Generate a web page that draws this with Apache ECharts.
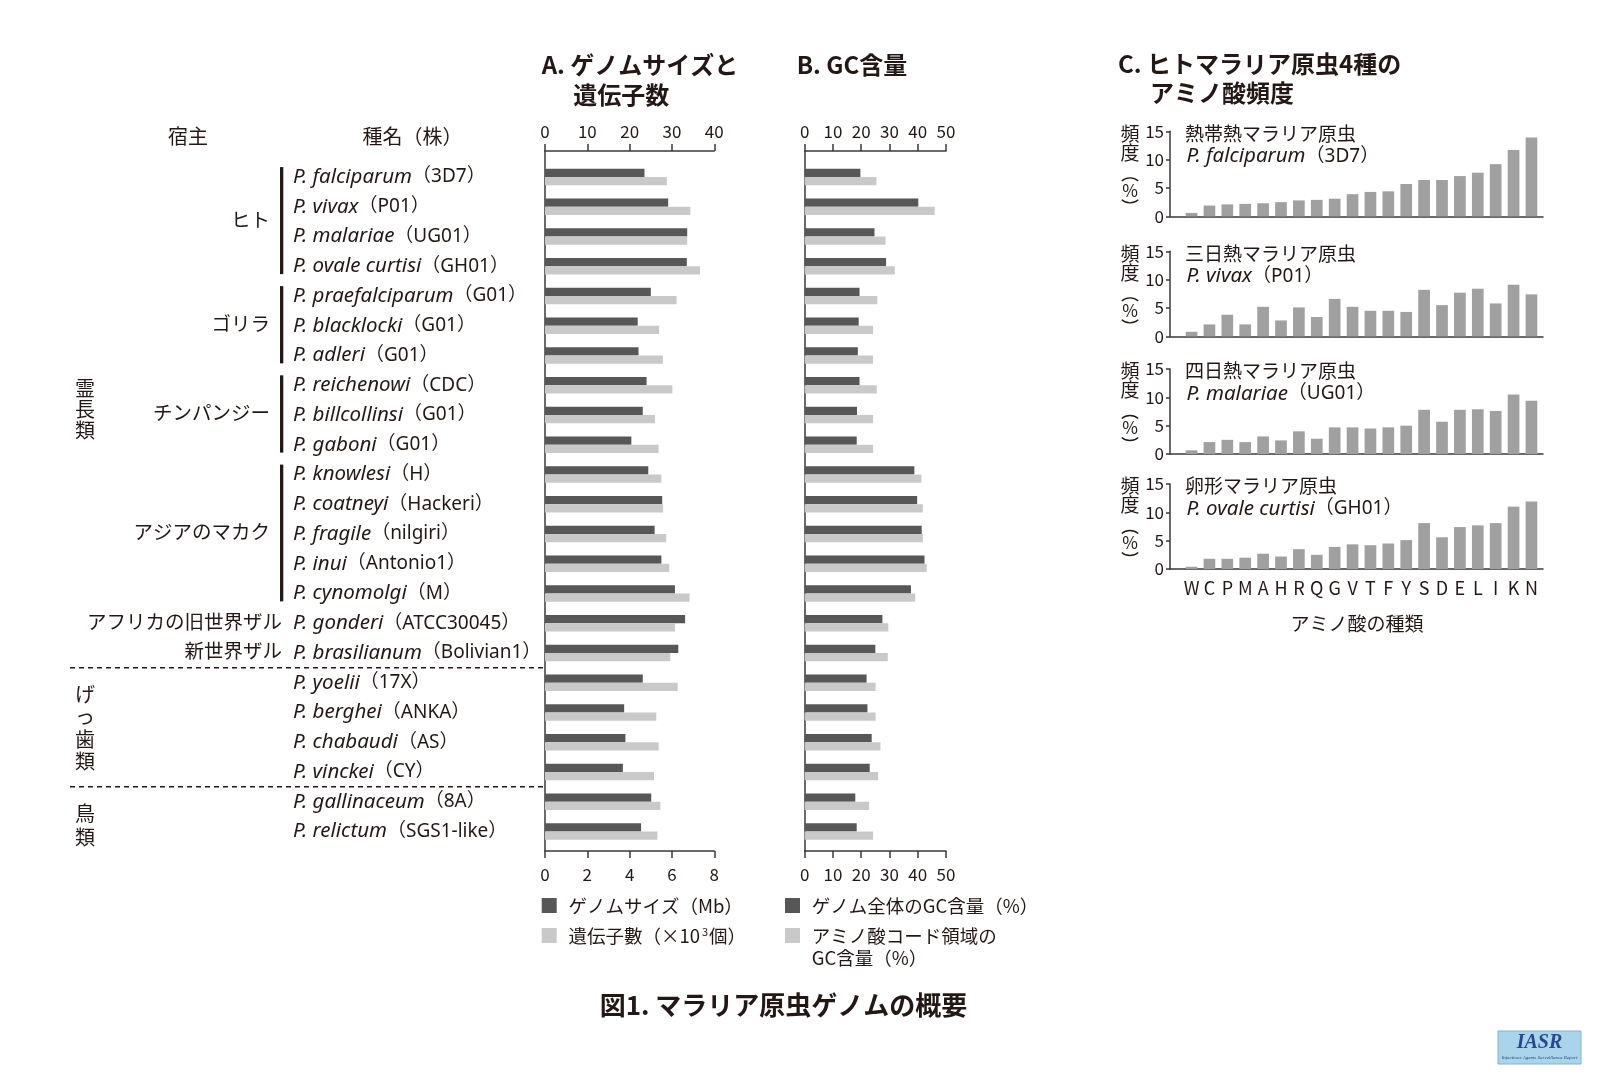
<!DOCTYPE html>
<html>
<head>
<meta charset="utf-8">
<script src="https://cdn.jsdelivr.net/npm/echarts@6/dist/echarts.min.js"></script>
<style>
  html, body { margin: 0; padding: 0; background: #fff; }
  #chart { width: 1612px; height: 1080px; }
</style>
</head>
<body>
<div id="chart"></div>
<script>
// ---- data ----
const species = ['P. falciparum', 'P. vivax', 'P. malariae', 'P. ovale curtisi', 'P. praefalciparum',
  'P. blacklocki', 'P. adleri', 'P. reichenowi', 'P. billcollinsi', 'P. gaboni', 'P. knowlesi',
  'P. coatneyi', 'P. fragile', 'P. inui', 'P. cynomolgi', 'P. gonderi', 'P. brasilianum',
  'P. yoelii', 'P. berghei', 'P. chabaudi', 'P. vinckei', 'P. gallinaceum', 'P. relictum']
const strains = ['3D7', 'P01', 'UG01', 'GH01', 'G01', 'G01', 'G01', 'CDC', 'G01', 'G01', 'H',
  'Hackeri', 'nilgiri', 'Antonio1', 'M', 'ATCC30045', 'Bolivian1', '17X', 'ANKA', 'AS', 'CY', '8A', 'SGS1-like']
// genome size (Mb), top axis 0-40
const genomeSize = [23.5, 29.1, 33.6, 33.5, 25.0, 21.9, 22.1, 24.0, 23.1, 20.4, 24.4, 27.7,
  25.9, 27.5, 30.7, 33.1, 31.5, 23.1, 18.7, 19.0, 18.4, 25.1, 22.7]
// gene count (x10^3), bottom axis 0-8
const geneCount = [5.76, 6.87, 6.72, 7.32, 6.22, 5.39, 5.57, 6.02, 5.20, 5.37, 5.50, 5.58,
  5.73, 5.87, 6.83, 6.14, 5.92, 6.27, 5.26, 5.37, 5.15, 5.45, 5.31]
// GC content (%)
const gcGenome = [19.7, 40.2, 24.7, 28.8, 19.4, 19.1, 18.8, 19.4, 18.5, 18.4, 38.8, 39.8,
  41.4, 42.4, 37.6, 27.5, 25.0, 21.9, 22.2, 23.7, 23.0, 17.9, 18.4]
const gcCoding = [25.4, 46.0, 28.6, 31.9, 25.7, 24.2, 24.2, 25.5, 24.2, 24.2, 41.3, 41.8,
  41.8, 43.2, 39.1, 29.6, 29.4, 25.1, 25.1, 26.8, 26.0, 22.8, 24.2]

const hostGroups = [
  { name: 'ヒト', from: 0, to: 3, bracket: true },
  { name: 'ゴリラ', from: 4, to: 6, bracket: true },
  { name: 'チンパンジー', from: 7, to: 9, bracket: true },
  { name: 'アジアのマカク', from: 10, to: 14, bracket: true },
  { name: 'アフリカの旧世界ザル', from: 15, to: 15, bracket: false },
  { name: '新世界ザル', from: 16, to: 16, bracket: false }
]

// amino acid frequency (%)
const aminoAcids = ['W', 'C', 'P', 'M', 'A', 'H', 'R', 'Q', 'G', 'V', 'T', 'F', 'Y', 'S', 'D', 'E', 'L', 'I', 'K', 'N']
const freqFalciparum = [0.6, 1.9, 2.1, 2.2, 2.3, 2.5, 2.8, 2.9, 3.1, 3.9, 4.3, 4.4, 5.7, 6.4, 6.4, 7.1, 7.7, 9.2, 11.7, 13.9]
const freqVivax = [0.8, 2.1, 3.8, 2.1, 5.2, 2.8, 5.1, 3.4, 6.6, 5.2, 4.5, 4.5, 4.3, 8.2, 5.5, 7.7, 8.4, 5.8, 9.1, 7.4]
const freqMalariae = [0.65, 2.1, 2.5, 2.1, 3.1, 2.4, 4.0, 2.7, 4.7, 4.7, 4.5, 4.7, 5.0, 7.8, 5.7, 7.8, 7.9, 7.6, 10.5, 9.4]
const freqOvale = [0.4, 1.8, 1.8, 2.0, 2.7, 2.2, 3.5, 2.5, 3.9, 4.35, 4.2, 4.5, 5.1, 8.1, 5.6, 7.4, 7.7, 8.1, 11.0, 11.9]

const subPanels = [
  { title: '熱帯熱マラリア原虫', sp: 'P. falciparum', strain: '3D7', data: freqFalciparum, top: 131.3 },
  { title: '三日熱マラリア原虫', sp: 'P. vivax', strain: 'P01', data: freqVivax, top: 251.3 },
  { title: '四日熱マラリア原虫', sp: 'P. malariae', strain: 'UG01', data: freqMalariae, top: 369 },
  { title: '卵形マラリア原虫', sp: 'P. ovale curtisi', strain: 'GH01', data: freqOvale, top: 484 }
]

// ---- layout ----
const FONT = '"Noto Sans CJK JP", "Noto Sans", sans-serif'
const LATIN = '"Noto Sans", "Noto Sans CJK JP", sans-serif'
const INK = '#231815'
const LINE = '#3a3a3a'
const DARK = '#575757'
const LIGHT = '#c9c9c9'
const MID = '#a0a0a0'

const frameTop = 151, frameH = 700
const dataTop = 162.1, rowH = 29.75, dataH = rowH * species.length
const aLeft = 545, aW = 169.3
const bLeft = 804.7, bW = 141.3
const cFrameLeft = 1170, cFrameW = 373, cDataLeft = 1182.6, cDataW = 357.8, cH = 85

const rowTop = i => dataTop + rowH * i
const rowMid = i => dataTop + rowH * (i + 0.5)

const axisLine = { show: true, onZero: false, lineStyle: { color: LINE, width: 1.5 } }
const noAxis = { show: false }
const tickStyle = (len) => ({ show: true, inside: false, length: len, lineStyle: { color: LINE, width: 1.5 } })
const lbl = (margin) => ({ show: true, margin: margin, color: INK, fontSize: 17, fontFamily: FONT })

// species name rich text: italic binomial + strain in full-width brackets
const nameRich = {
  i: { fontFamily: LATIN, fontStyle: 'italic', fontSize: 20.5, color: INK, fill: INK },
  n: { fontFamily: LATIN, fontSize: 19, color: INK, fill: INK }
}

function frameY (grid) {
  return { type: 'value', gridIndex: grid, min: 0, max: 1, axisLine: axisLine,
    axisTick: noAxis, axisLabel: noAxis, splitLine: noAxis }
}

const grid = [
  { left: aLeft, top: frameTop, width: aW, height: frameH },
  { left: aLeft, top: dataTop, width: aW, height: dataH },
  { left: bLeft, top: frameTop, width: bW, height: frameH },
  { left: bLeft, top: dataTop, width: bW, height: dataH }
]
const xAxis = [
  { type: 'value', gridIndex: 0, position: 'top', min: 0, max: 40, interval: 10,
    axisLine: axisLine, axisTick: tickStyle(7), axisLabel: lbl(11), splitLine: noAxis },
  { type: 'value', gridIndex: 0, position: 'bottom', min: 0, max: 8, interval: 2,
    axisLine: axisLine, axisTick: tickStyle(7), axisLabel: lbl(15), splitLine: noAxis },
  { type: 'value', gridIndex: 1, min: 0, max: 40, show: false },
  { type: 'value', gridIndex: 1, min: 0, max: 8, show: false },
  { type: 'value', gridIndex: 2, position: 'top', min: 0, max: 50, interval: 10,
    axisLine: axisLine, axisTick: tickStyle(7), axisLabel: lbl(11), splitLine: noAxis },
  { type: 'value', gridIndex: 2, position: 'bottom', min: 0, max: 50, interval: 10,
    axisLine: axisLine, axisTick: tickStyle(7), axisLabel: lbl(15), splitLine: noAxis },
  { type: 'value', gridIndex: 3, min: 0, max: 50, show: false }
]
const yAxis = [
  frameY(0),
  { type: 'category', gridIndex: 1, data: species, inverse: true,
    axisLine: noAxis, axisTick: noAxis, splitLine: noAxis,
    axisLabel: {
      show: true, align: 'left', margin: aLeft - 293, interval: 0,
      formatter: (v, i) => '{i|' + v + '}{n|（' + strains[i] + '）}',
      rich: nameRich
    } },
  frameY(2),
  { type: 'category', gridIndex: 3, data: species, inverse: true, show: false }
]
const series = [
  { name: 'ゲノムサイズ（Mb）', type: 'bar', xAxisIndex: 2, yAxisIndex: 1, data: genomeSize,
    barWidth: 8.3, barGap: '0%', itemStyle: { color: DARK } },
  { name: '遺伝子数', type: 'bar', xAxisIndex: 3, yAxisIndex: 1, data: geneCount,
    barWidth: 8.3, barGap: '0%', itemStyle: { color: LIGHT } },
  { name: 'ゲノム全体のGC含量', type: 'bar', xAxisIndex: 6, yAxisIndex: 3, data: gcGenome,
    barWidth: 8.3, barGap: '0%', itemStyle: { color: DARK } },
  { name: 'アミノ酸コード領域のGC含量', type: 'bar', xAxisIndex: 6, yAxisIndex: 3, data: gcCoding,
    barWidth: 8.3, barGap: '0%', itemStyle: { color: LIGHT } }
]

subPanels.forEach(function (p, k) {
  const gFrame = grid.length
  grid.push({ left: cFrameLeft, top: p.top, width: cFrameW, height: cH })
  grid.push({ left: cDataLeft, top: p.top, width: cDataW, height: cH })
  xAxis.push({ type: 'value', gridIndex: gFrame, min: 0, max: 1, axisLine: axisLine,
    axisTick: noAxis, axisLabel: noAxis, splitLine: noAxis })
  xAxis.push({ type: 'category', gridIndex: gFrame + 1, data: aminoAcids,
    axisLine: noAxis, axisTick: noAxis,
    axisLabel: k === 3 ? Object.assign(lbl(10), { fontSize: 18, interval: 0 }) : noAxis })
  yAxis.push({ type: 'value', gridIndex: gFrame, min: 0, max: 15, interval: 5,
    axisLine: axisLine, axisTick: tickStyle(4), axisLabel: lbl(6), splitLine: noAxis })
  yAxis.push({ type: 'value', gridIndex: gFrame + 1, min: 0, max: 15, show: false })
  series.push({ type: 'bar', xAxisIndex: xAxis.length - 1, yAxisIndex: yAxis.length - 1,
    data: p.data, barWidth: 11.7, itemStyle: { color: MID } })
})

// ---- annotations ----
const graphic = []
function txt (x, y, text, o) {
  o = o || {}
  graphic.push({ type: 'text', x: x, y: y, silent: true,
    style: Object.assign({ text: text, fill: INK, font: (o.weight || 'normal') + ' ' + (o.size || 19) + 'px ' + FONT,
      textAlign: o.align || 'left', textVerticalAlign: 'middle' }, o.style || {}) })
}

txt(541.7, 65, 'A. ゲノムサイズと', { size: 24, weight: 'bold' })
txt(573.3, 95, '遺伝子数', { size: 24, weight: 'bold' })
txt(796.7, 65, 'B. GC含量', { size: 24, weight: 'bold' })
txt(1118, 64, 'C. ヒトマラリア原虫4種の', { size: 24, weight: 'bold' })
txt(1150, 93, 'アミノ酸頻度', { size: 24, weight: 'bold' })
txt(188, 136.7, '宿主', { size: 20, align: 'center' })
txt(412.5, 136.7, '種名（株）', { size: 20, align: 'center' })

hostGroups.forEach(function (g) {
  const y = (rowMid(g.from) + rowMid(g.to)) / 2 - 2
  txt(g.bracket ? 270 : 282, y, g.name, { size: 19.5, align: 'right' })
  if (g.bracket) {
    graphic.push({ type: 'rect', silent: true,
      shape: { x: 280, y: rowTop(g.from) + 5, width: 3.3, height: rowTop(g.to + 1) - rowTop(g.from) - 12 },
      style: { fill: INK } })
  }
})

// vertical class labels
function vtxt (x, y, text, lh) {
  graphic.push({ type: 'text', x: x, y: y, silent: true,
    style: { text: text.split('').join('\n'), fill: INK, font: '20px ' + FONT, lineHeight: lh,
      textAlign: 'center', textVerticalAlign: 'middle' } })
}
vtxt(85, 409, '霊長類', 21)
vtxt(85, 728, 'げっ歯類', 22.3)
vtxt(85, 825, '鳥類', 24)

;[17, 21].forEach(function (i) {
  graphic.push({ type: 'line', silent: true,
    shape: { x1: 70, y1: rowTop(i), x2: aLeft, y2: rowTop(i) },
    style: { stroke: INK, lineWidth: 1.5, lineDash: [5, 4] } })
})

// legends
function legendItem (x, y, color, text, rich) {
  graphic.push({ type: 'rect', silent: true, shape: { x: x, y: y - 7.5, width: 15, height: 15 }, style: { fill: color } })
  graphic.push({ type: 'text', x: x + 26.7, y: y, silent: true,
    style: { text: text, fill: INK, font: '18.5px ' + FONT, textVerticalAlign: 'middle', rich: rich } })
}
legendItem(541.7, 905.5, DARK, 'ゲノムサイズ（Mb）')
legendItem(541.7, 935.5, LIGHT, '遺伝子數（×10{s|3}個）', {
  s: { fontSize: 11, fontFamily: FONT, fill: INK, padding: [0, 1, 8, 2] }
})
legendItem(785, 905.5, DARK, 'ゲノム全体のGC含量（%）')
legendItem(785, 935.5, LIGHT, 'アミノ酸コード領域の')
txt(811.7, 958.3, 'GC含量（%）', { size: 18.5 })

// panel C texts
subPanels.forEach(function (p) {
  const t = p.top
  txt(1185, t + 2, p.title, { size: 19 })
  graphic.push({ type: 'text', x: 1186.5, y: t + 25, silent: true,
    style: { text: '{i|' + p.sp + '}{n|（' + p.strain + '）}', fill: INK, textVerticalAlign: 'middle',
      rich: nameRich } })
  txt(1130, t + 2, '頻', { size: 19, align: 'center' })
  txt(1130, t + 21, '度', { size: 19, align: 'center' })
  txt(1130, t + 59, '%', { size: 17, align: 'center' })
  // bracket drawn as two arcs round the percent sign (vertical writing)
  graphic.push({ type: 'arc', silent: true,
    shape: { cx: 1130, cy: t + 59, r: 12.5, startAngle: -Math.PI / 2 - 0.72, endAngle: -Math.PI / 2 + 0.72 },
    style: { stroke: INK, lineWidth: 1.3, fill: null } })
  graphic.push({ type: 'arc', silent: true,
    shape: { cx: 1130, cy: t + 59, r: 12.5, startAngle: Math.PI / 2 - 0.72, endAngle: Math.PI / 2 + 0.72 },
    style: { stroke: INK, lineWidth: 1.3, fill: null } })
})
txt(1357, 624, 'アミノ酸の種類', { size: 19, align: 'center' })

txt(783.5, 1005, '図1. マラリア原虫ゲノムの概要', { size: 26, weight: 'bold', align: 'center' })

// IASR mark
graphic.push({ type: 'rect', silent: true, shape: { x: 1498, y: 1031, width: 83, height: 33 },
  style: { fill: '#a9d4e9', stroke: '#7fb6d4', lineWidth: 1 } })
graphic.push({ type: 'text', x: 1539.5, y: 1043, silent: true,
  style: { text: 'IASR', fill: '#2a468c', font: 'italic bold 20px "Liberation Serif", serif',
    textAlign: 'center', textVerticalAlign: 'middle' } })
graphic.push({ type: 'text', x: 1539.5, y: 1058, silent: true,
  style: { text: 'Infectious Agents Surveillance Report', fill: '#2a468c', font: 'italic 5px "Liberation Serif", serif',
    textAlign: 'center', textVerticalAlign: 'middle' } })

const myChart = echarts.init(document.getElementById('chart'), null, { renderer: 'canvas' })
const option = {
  animation: false,
  backgroundColor: '#fff',
  textStyle: { fontFamily: FONT },
  grid: grid,
  xAxis: xAxis,
  yAxis: yAxis,
  series: series,
  graphic: graphic
}
option && myChart.setOption(option)
</script>
</body>
</html>
